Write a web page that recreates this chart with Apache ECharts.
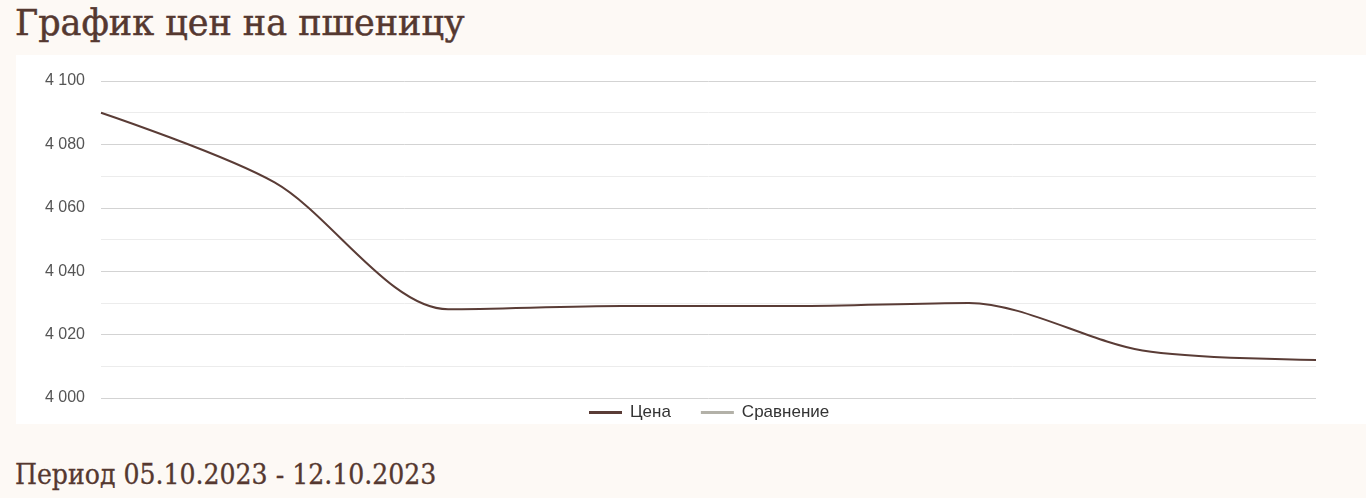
<!DOCTYPE html>
<html>
<head>
<meta charset="utf-8">
<title>График цен на пшеницу</title>
<script src="https://cdn.jsdelivr.net/npm/echarts@6/dist/echarts.min.js"></script>
<style>
  html, body { margin: 0; padding: 0; background: #fdf9f5; width: 1366px; height: 498px; overflow: hidden; }
  .title { position: absolute; left: 15px; top: 3px; margin: 0; font-family: "DejaVu Serif", serif; font-weight: normal; font-size: 35px; color: #553830; -webkit-text-stroke: 0.5px #553830; white-space: nowrap; }
  .box { position: absolute; left: 16px; top: 55px; width: 1350px; height: 369px; background: #fff; }
  #chart { width: 100%; height: 100%; }
  .period { position: absolute; left: 15px; top: 458px; margin: 0; font-family: "DejaVu Serif Condensed", "DejaVu Serif", serif; font-stretch: condensed; font-size: 28px; color: #553830; -webkit-text-stroke: 0.3px #553830; white-space: nowrap; }
</style>
</head>
<body>
<h1 class="title">График цен на пшеницу</h1>
<div class="box"><div id="chart"></div></div>
<div class="period">Период 05.10.2023 - 12.10.2023</div>
<script>
// даты периода
var dates = ["05.10", "06.10", "07.10", "08.10", "09.10", "10.10", "11.10", "12.10"];
// цена пшеницы
var prices = [4090, 4068, 4028, 4029, 4029, 4030, 4015, 4012];
// ряд для сравнения (пустой)
var compare = [];

(function () {
  var myChart = echarts.init(document.getElementById("chart"));
  var option = {
    animation: false,
    grid: { left: 85, right: 50, top: 26, bottom: 26 },
    // легенда под сеткой, по центру области графика
    legend: {
      top: 344,
      left: 568,
      itemWidth: 33,
      itemHeight: 3,
      itemGap: 30,
      icon: "rect",
      textStyle: { fontFamily: "Liberation Sans, Arial", fontSize: 17, color: "#333", padding: [0, 0, 0, 3] },
      data: ["Цена", "Сравнение"]
    },
    xAxis: {
      type: "category",
      data: dates,
      boundaryGap: false,
      axisLine: { show: false },
      axisTick: { show: false },
      axisLabel: { show: false }
    },
    yAxis: {
      type: "value",
      min: 4000,
      max: 4100,
      interval: 20,
      axisLabel: {
        fontFamily: "Liberation Sans, Arial",
        fontSize: 16,
        color: "#555",
        margin: 16,
        formatter: function (v) {
          return String(v).replace(/\B(?=(\d{3})+(?!\d))/g, " ");
        }
      },
      splitLine: { lineStyle: { color: "#d3d3d3", width: 1 } },
      minorTick: { show: false, splitNumber: 2 },
      minorSplitLine: { show: true, lineStyle: { color: "#ececec", width: 1 } }
    },
    series: [
      {
        name: "Цена",
        type: "line",
        data: prices,
        smooth: 0.3,
        showSymbol: false,
        itemStyle: { color: "#5a3c36" },
        lineStyle: { color: "#5a3c36", width: 2 }
      },
      {
        name: "Сравнение",
        type: "line",
        data: compare,
        showSymbol: false,
        itemStyle: { color: "#b3b1a8" },
        lineStyle: { color: "#b3b1a8", width: 2 }
      }
    ]
  };
  myChart.setOption(option);
  window.addEventListener("resize", function () {
    myChart.resize();
  });
})();
</script>
</body>
</html>
